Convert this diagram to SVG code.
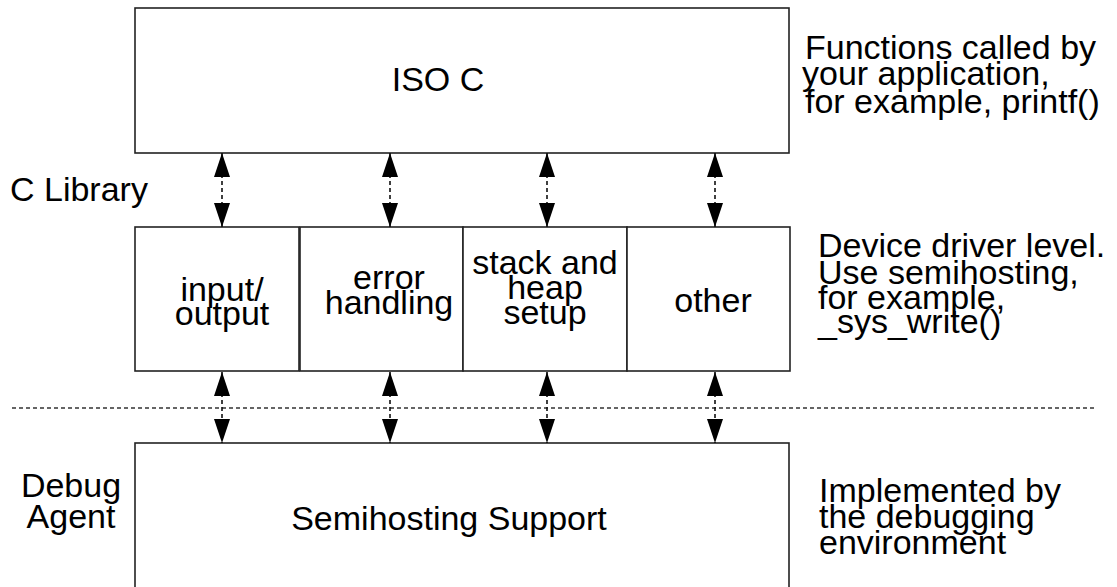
<svg xmlns="http://www.w3.org/2000/svg" width="1117" height="587" viewBox="0 0 1117 587">
<style>
.box{fill:#fff;stroke:#222;stroke-width:1.6}
.t{font-family:"Liberation Sans",Arial,sans-serif;font-size:34px;fill:#000}
.c{text-anchor:middle}
.conn{stroke:#111;stroke-width:1.6;stroke-dasharray:4 3;fill:none}
.sep{stroke:#333;stroke-width:1.5;stroke-dasharray:4 3;fill:none}
</style>
<defs>
<marker id="ah" viewBox="0 0 24 16" refX="24" refY="8" markerWidth="24" markerHeight="16" markerUnits="userSpaceOnUse" orient="auto-start-reverse">
<path d="M0,0 L24,8 L0,16 z" fill="#000"/>
</marker>
</defs>
<rect width="1117" height="587" fill="#fff"/>

<g id="iso-c">
<rect class="box" x="135" y="8" width="654" height="145"/>
<text class="t c" x="438" y="91" font-size="33">ISO C</text>
</g>

<g id="io">
<rect class="box" x="135" y="227" width="164" height="144"/>
<text class="t c" x="222" y="301">input/</text>
<text class="t c" x="222" y="325">output</text>
</g>
<g id="error">
<rect class="box" x="300" y="227" width="163" height="144"/>
<text class="t c" x="389" y="289">error</text>
<text class="t c" x="389" y="314">handling</text>
</g>
<g id="stack">
<rect class="box" x="463" y="227" width="164" height="144"/>
<text class="t c" x="545" y="274">stack and</text>
<text class="t c" x="545" y="299">heap</text>
<text class="t c" x="545" y="324">setup</text>
</g>
<g id="other">
<rect class="box" x="627" y="227" width="163" height="144"/>
<text class="t c" x="713" y="312">other</text>
</g>

<g id="semihosting">
<rect class="box" x="135" y="443" width="654" height="160"/>
<text class="t c" x="449" y="530" font-size="31.5">Semihosting Support</text>
</g>

<g id="labels">
<text class="t" x="805" y="59" font-size="34.5">Functions called by</text>
<text class="t" x="802" y="85" font-size="34.5">your application,</text>
<text class="t" x="805" y="113" font-size="35">for example, printf()</text>
<text class="t" x="10" y="201" font-size="34.5">C Library</text>
<text class="t" x="818" y="257">Device driver level.</text>
<text class="t" x="818" y="284">Use semihosting,</text>
<text class="t" x="818" y="309">for example,</text>
<text class="t" x="818" y="333">_sys_write()</text>
<text class="t c" x="71" y="497">Debug</text>
<text class="t c" x="71" y="528">Agent</text>
<text class="t" x="819" y="502" font-size="36.5">Implemented by</text>
<text class="t" x="819" y="528" font-size="36">the debugging</text>
<text class="t" x="819" y="554" font-size="35.5">environment</text>
</g>

<g id="connectors">
<line class="sep" x1="12" y1="408" x2="1096" y2="408"/>
<line class="conn" x1="222" y1="153" x2="222" y2="227" marker-start="url(#ah)" marker-end="url(#ah)"/>
<line class="conn" x1="390" y1="153" x2="390" y2="227" marker-start="url(#ah)" marker-end="url(#ah)"/>
<line class="conn" x1="547" y1="153" x2="547" y2="227" marker-start="url(#ah)" marker-end="url(#ah)"/>
<line class="conn" x1="715" y1="153" x2="715" y2="227" marker-start="url(#ah)" marker-end="url(#ah)"/>
<line class="conn" x1="222" y1="372" x2="222" y2="443" marker-start="url(#ah)" marker-end="url(#ah)"/>
<line class="conn" x1="390" y1="372" x2="390" y2="443" marker-start="url(#ah)" marker-end="url(#ah)"/>
<line class="conn" x1="547" y1="372" x2="547" y2="443" marker-start="url(#ah)" marker-end="url(#ah)"/>
<line class="conn" x1="715" y1="372" x2="715" y2="443" marker-start="url(#ah)" marker-end="url(#ah)"/>
</g>
</svg>
